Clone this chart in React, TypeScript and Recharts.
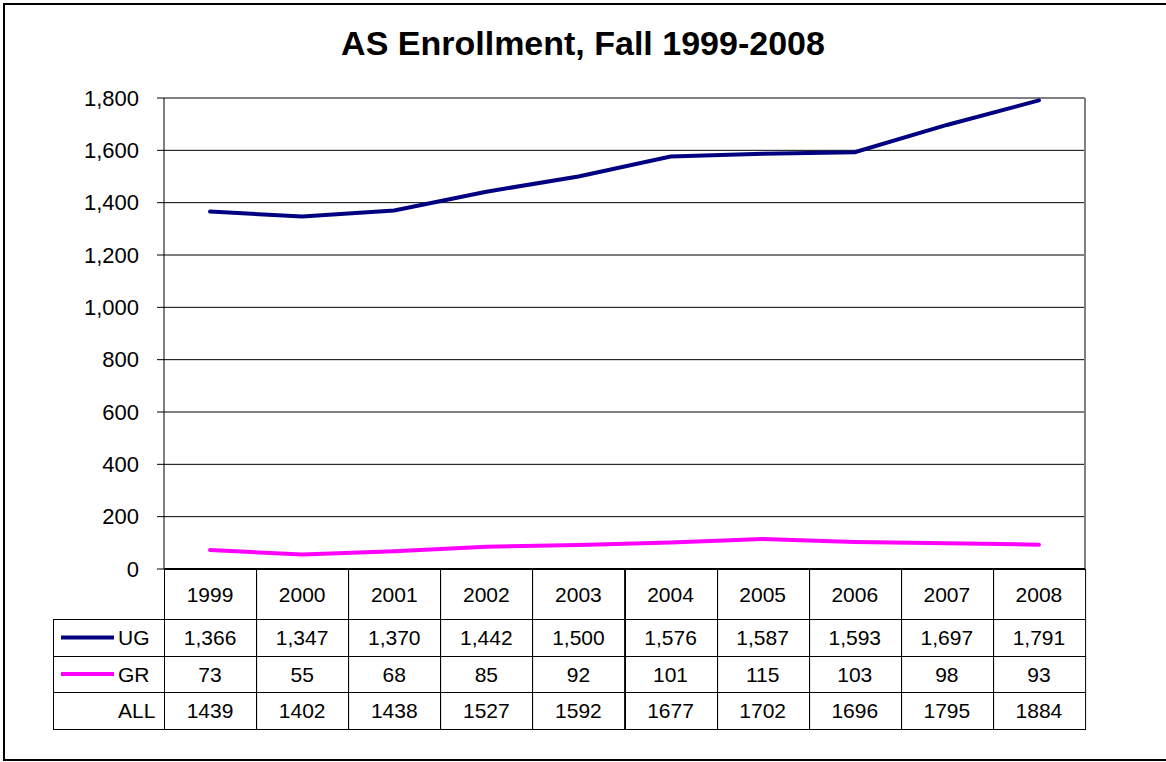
import { LineChart, Line, XAxis, YAxis, CartesianGrid, ReferenceLine } from "recharts";

const YEARS = ["1999", "2000", "2001", "2002", "2003", "2004", "2005", "2006", "2007", "2008"];
const UG = [1366, 1347, 1370, 1442, 1500, 1576, 1587, 1593, 1697, 1791];
const GR = [73, 55, 68, 85, 92, 101, 115, 103, 98, 93];
const ALL = [1439, 1402, 1438, 1527, 1592, 1677, 1702, 1696, 1795, 1884];
const Y_TICKS = [0, 200, 400, 600, 800, 1000, 1200, 1400, 1600, 1800];

const W = 1166;
const H = 762;
// plot frame and table rows, in page pixels
const PLOT = { left: 164, right: 1085, top: 98, bottom: 569 };
const ROWS = [569, 619, 656, 692, 729];
const LEGEND_LEFT = 53;
const FONT = "Arial, 'Liberation Sans', sans-serif";

const data = YEARS.map((year, i) => ({ year, ug: UG[i], gr: GR[i] }));

const fmt = (v: number) => v.toLocaleString("en-US");

function LegendColumn() {
  const rows = [
    { label: "UG", color: "#000080" },
    { label: "GR", color: "#FF00FF" },
    { label: "ALL", color: null },
  ];
  return (
    <g>
      {rows.map((r, k) => {
        const y0 = ROWS[k + 1];
        const y1 = ROWS[k + 2];
        const mid = (y0 + y1) / 2;
        return (
          <g key={r.label}>
            <rect x={LEGEND_LEFT + 0.5} y={y0 + 0.5} width={PLOT.left - LEGEND_LEFT} height={y1 - y0} fill="none" stroke="#000" />
            {r.color && <line x1={61} x2={114} y1={mid} y2={mid} stroke={r.color} strokeWidth={4} />}
            <text x={118} y={mid} dominantBaseline="central" fontSize={21} fontFamily={FONT} fill="#000">
              {r.label}
            </text>
          </g>
        );
      })}
    </g>
  );
}

function TableTick(props: any) {
  const { x, payload } = props;
  const i = YEARS.indexOf(String(payload.value));
  const cw = (PLOT.right - PLOT.left) / YEARS.length;
  const left = x - cw / 2;
  const cells = [YEARS[i], fmt(UG[i]), String(GR[i]), String(ALL[i])];
  return (
    <g>
      {i === 0 && <LegendColumn />}
      {cells.map((c, r) => (
        <g key={r}>
          <rect x={Math.round(left) + 0.5} y={ROWS[r] + 0.5} width={cw} height={ROWS[r + 1] - ROWS[r]} fill="none" stroke="#000" />
          <text x={x} y={(ROWS[r] + ROWS[r + 1]) / 2} textAnchor="middle" dominantBaseline="central" fontSize={21} fontFamily={FONT} fill="#000">
            {c}
          </text>
        </g>
      ))}
    </g>
  );
}

export default function App() {
  return (
    <div style={{ position: "absolute", left: 0, top: 0, width: W, height: H, background: "#fff" }}>
      <LineChart
        width={W}
        height={H}
        data={data}
        margin={{ top: PLOT.top, right: W - PLOT.right, bottom: H - PLOT.bottom - 160, left: PLOT.left - 100 }}
      >
        <CartesianGrid vertical={false} stroke="#000" />
        <XAxis
          dataKey="year"
          scale="band"
          height={160}
          interval={0}
          tickLine={false}
          axisLine={{ stroke: "#000", strokeWidth: 2 }}
          tick={<TableTick />}
        />
        <YAxis
          width={100}
          domain={[0, 1800]}
          ticks={Y_TICKS}
          tickFormatter={fmt}
          tickSize={7}
          tickMargin={18}
          axisLine={{ stroke: "#000" }}
          tickLine={{ stroke: "#000" }}
          tick={{ fontSize: 22, fontFamily: FONT, fill: "#000" }}
        />
        <ReferenceLine y={1800} stroke="#808080" strokeWidth={2} />
        <ReferenceLine x="2008" position="end" stroke="#808080" strokeWidth={2} />
        <Line dataKey="ug" stroke="#000080" strokeWidth={4} dot={false} strokeLinecap="round" isAnimationActive={false} />
        <Line dataKey="gr" stroke="#FF00FF" strokeWidth={4} dot={false} strokeLinecap="round" isAnimationActive={false} />
      </LineChart>
      <svg width={W} height={H} style={{ position: "absolute", left: 0, top: 0, pointerEvents: "none" }}>
        <rect x={4} y={4} width={W + 10} height={756} fill="none" stroke="#000" strokeWidth={2} />
        <text x={583} y={55} textAnchor="middle" fontSize={34} fontWeight="bold" fontFamily={FONT} fill="#000">
          AS Enrollment, Fall 1999-2008
        </text>
      </svg>
    </div>
  );
}
